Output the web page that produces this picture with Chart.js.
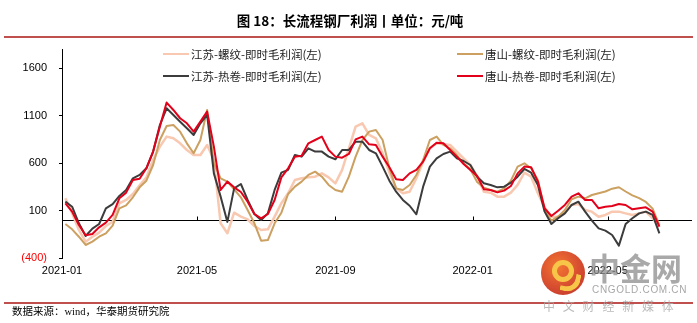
<!DOCTYPE html>
<html><head><meta charset="utf-8">
<script src="https://cdn.jsdelivr.net/npm/chart.js@4/dist/chart.umd.min.js"></script>
<style>
html,body{margin:0;padding:0;background:#fff;}
#wrap{position:relative;width:697px;height:323px;overflow:hidden;background:#fff;font-family:"Noto Sans CJK SC","Liberation Sans",sans-serif;}
#c{position:absolute;left:0;top:0;}
.abs{position:absolute;white-space:nowrap;}
.title{left:0;width:700px;text-align:center;top:10px;font-size:13.5px;font-weight:bold;color:#000;line-height:20px;}
.rule{left:4px;width:689px;height:2px;background:#C0504D;}
.lg{font-size:11.5px;color:#222;line-height:14px;}
.lgl{position:absolute;height:2px;width:26px;}
.src{left:12px;top:304px;font-size:10.5px;color:#000;line-height:16px;font-family:"Liberation Serif","Noto Sans CJK SC",serif;}
.wm1{left:589px;top:247px;font-size:31px;font-weight:bold;color:rgba(140,140,140,0.75);line-height:40px;}
.wm2{left:592px;top:283px;font-size:10px;letter-spacing:0.7px;color:rgba(150,150,150,0.85);font-family:"Liberation Sans",sans-serif;line-height:14px;}
.wm3{left:543px;top:298px;font-size:12px;letter-spacing:7.8px;color:rgba(170,170,170,0.8);line-height:16px;}
.logo{left:541px;top:251px;width:44px;height:44px;border-radius:50%;background:radial-gradient(circle at 40% 35%,#F36B21,#D03A1E 60%,#B8231C);opacity:0.92;}
.logo .in{position:absolute;left:11px;top:9px;width:12px;height:12px;border:5px solid #F7C23A;border-radius:50%;}
.logo .tail{position:absolute;left:20px;top:22px;width:14px;height:14px;border-right:5px solid #F7C23A;border-bottom:5px solid #F7C23A;border-radius:0 0 14px 0;transform:rotate(10deg);}
</style></head>
<body><div id="wrap">
<canvas id="c" width="697" height="323"></canvas>
<div class="abs title">图 18：长流程钢厂利润丨单位：元/吨</div>
<div class="abs rule" style="top:36px;"></div>
<div class="abs rule" style="top:302px;"></div>
<div id="legend"></div>
<div class="abs src">数据来源：wind，华泰期货研究院</div>
<div class="abs logo"><div class="in"></div><div class="tail"></div></div>
<div class="abs wm1">中金网</div>
<div class="abs wm2">CNGOLD.COM.CN</div>
<div class="abs wm3">中文财经新媒体</div>
</div>
<script>
// ---- data ----
const dates = ["2021-01-04","2021-01-10","2021-01-16","2021-01-22","2021-01-28","2021-02-03","2021-02-09","2021-02-15","2021-02-21","2021-02-27",
"2021-03-05","2021-03-11","2021-03-17","2021-03-23","2021-03-29","2021-04-04","2021-04-10","2021-04-16","2021-04-22","2021-04-28",
"2021-05-04","2021-05-10","2021-05-16","2021-05-22","2021-05-28","2021-06-03","2021-06-09","2021-06-15","2021-06-21","2021-06-27",
"2021-07-03","2021-07-09","2021-07-15","2021-07-21","2021-07-27","2021-08-02","2021-08-08","2021-08-14","2021-08-20","2021-08-26",
"2021-09-01","2021-09-07","2021-09-13","2021-09-19","2021-09-25","2021-10-01","2021-10-07","2021-10-13","2021-10-19","2021-10-25",
"2021-10-31","2021-11-06","2021-11-12","2021-11-18","2021-11-24","2021-11-30","2021-12-06","2021-12-12","2021-12-18","2021-12-24",
"2021-12-30","2022-01-05","2022-01-11","2022-01-17","2022-01-23","2022-01-29","2022-02-04","2022-02-10","2022-02-16","2022-02-22",
"2022-02-28","2022-03-06","2022-03-12","2022-03-18","2022-03-24","2022-03-30","2022-04-05","2022-04-11","2022-04-17","2022-04-23",
"2022-04-29","2022-05-05","2022-05-11","2022-05-17","2022-05-23","2022-05-29","2022-06-04","2022-06-10","2022-06-16"];

const jiangsuRebar = [228,70,-105,-228,-176,-133,-63,-18,176,211,
274,365,449,632,772,878,860,807,737,684,
684,790,632,-35,-140,77,35,7,-63,-105,
-98,35,176,281,421,439,449,456,491,449,
386,527,755,983,1018,895,860,702,498,333,
281,298,439,614,755,807,797,790,720,649,
579,463,298,288,246,246,288,369,498,456,
281,133,35,35,77,158,168,105,88,35,
53,88,88,70,53,70,88,18,-70];

const tangshanRebar = [-42,-98,-176,-263,-228,-176,-140,-60,123,154,
239,344,414,579,842,990,1000,930,807,702,
842,1158,597,439,404,323,239,105,-35,-218,
-211,-35,77,274,351,404,474,509,456,369,
316,298,456,667,842,930,948,842,544,333,
316,369,474,632,842,878,790,755,684,597,
534,400,340,316,298,333,414,562,597,544,
421,105,-7,35,105,218,246,228,263,281,
300,330,345,300,260,230,190,120,-53];

const jiangsuHRC = [193,140,-35,-168,-90,-42,123,168,253,316,
439,474,544,720,1000,1176,1106,1035,965,895,
1018,1106,491,246,-20,333,379,211,63,0,
70,316,498,527,684,667,755,720,720,667,
639,737,737,825,825,737,702,562,414,298,
211,150,60,351,562,649,695,720,649,621,
579,456,386,369,344,351,393,456,537,498,
369,88,-42,18,70,158,193,88,-7,-88,
-112,-158,-270,-42,18,70,88,53,-140];

const tangshanHRC = [175,88,-53,-161,-147,-77,-28,53,228,288,
421,435,544,720,983,1236,1158,1071,1018,930,
1035,1141,772,316,404,344,295,193,63,18,
63,211,449,544,667,677,807,842,878,737,
667,656,695,849,878,797,790,667,555,428,
421,491,527,614,755,814,807,737,667,590,
527,463,323,316,291,309,358,491,562,555,
404,123,42,98,158,246,281,211,211,123,
140,147,168,158,112,123,133,88,-70];

const seriesNames = ["江苏-螺纹-即时毛利润(左)","唐山-螺纹-即时毛利润(左)","江苏-热卷-即时毛利润(左)","唐山-热卷-即时毛利润(左)"];
const seriesColors = ["#F8C8B0","#CBA060","#3C3C3C","#E2001A"];
const xTickDates = ["2021-01-01","2021-05-01","2021-09-01","2022-01-01","2022-05-01"];
const xTickLabels = ["2021-01","2021-05","2021-09","2022-01","2022-05"];
const xEndDate = "2022-07-15";
const yTickValues = [-400,100,600,1100,1600];
const yMin = -400, yMax = 1800;

// ---- build ----
const DAY0 = Date.UTC(2021,0,1);
function dayOf(s){const p=s.split('-').map(Number);return (Date.UTC(p[0],p[1]-1,p[2])-DAY0)/86400000;}
const xs = dates.map(dayOf);
const xTickDays = xTickDates.map(dayOf);
const pts = vals => vals.map((v,i)=>({x:xs[i],y:v}));
const allSeries = [jiangsuRebar,tangshanRebar,jiangsuHRC,tangshanHRC];
const widths = [2.5,2,2,2];
const orders = [4,3,2,1];

// legend (HTML)
const lgPos = [[163,54],[457,54],[163,75.5],[457,75.5]];
const lg = document.getElementById('legend');
seriesNames.forEach((n,i)=>{
  const [lx,ly]=lgPos[i];
  const line=document.createElement('div');
  line.className='lgl'; line.style.left=lx+'px'; line.style.top=(ly-1)+'px'; line.style.background=seriesColors[i];
  lg.appendChild(line);
  const t=document.createElement('div');
  t.className='abs lg'; t.style.left=(lx+28)+'px'; t.style.top=(ly-7)+'px'; t.textContent=n;
  lg.appendChild(t);
});

const zeroLine = {id:'zeroLine', beforeDatasetsDraw(chart){
  const {ctx, chartArea:a, scales:{x,y}} = chart;
  const py = Math.round(y.getPixelForValue(0))+0.5;
  ctx.save(); ctx.strokeStyle='#000'; ctx.lineWidth=1; ctx.beginPath();
  ctx.moveTo(a.left,py); ctx.lineTo(a.right,py);
  xTickDays.slice(1).forEach(d=>{const px=Math.round(x.getPixelForValue(d))+0.5; ctx.moveTo(px,py); ctx.lineTo(px,py-4);});
  ctx.stroke(); ctx.restore();
}};

new Chart(document.getElementById('c'), {
  type:'line',
  data:{datasets: allSeries.map((s,i)=>({label:seriesNames[i], data:pts(s), borderColor:seriesColors[i], backgroundColor:seriesColors[i], borderWidth:widths[i], order:orders[i], fill:false}))},
  options:{
    responsive:false, maintainAspectRatio:false, animation:false,
    layout:{padding:{left:0,right:5,top:49,bottom:45}},
    plugins:{legend:{display:false}, tooltip:{enabled:false}},
    elements:{point:{radius:0}, line:{tension:0, borderJoinStyle:'round'}},
    scales:{
      x:{type:'linear', min:0, max:dayOf(xEndDate),
        afterBuildTicks:s=>{s.ticks=xTickDays.map(v=>({value:v}));},
        afterFit:s=>{s.height=20;},
        ticks:{callback:v=>xTickLabels[xTickDays.indexOf(v)], color:'#000', font:{size:11,family:'Liberation Sans'}, padding:6, maxRotation:0, autoSkip:false},
        grid:{display:false, drawTicks:false}, border:{display:false}},
      y:{type:'linear', min:yMin, max:yMax,
        afterBuildTicks:s=>{s.ticks=yTickValues.map(v=>({value:v}));},
        afterFit:s=>{s.width=62;},
        ticks:{callback:v=> v<0 ? '('+(-v)+')' : String(v), color:c=>(c.tick && c.tick.value<0)?'#FF0000':'#000', font:{size:11,family:'Liberation Sans'}, padding:12},
        grid:{drawOnChartArea:false, drawTicks:true, tickLength:3, color:'#000'},
        border:{display:true, color:'#000', width:1}}
    }
  },
  plugins:[zeroLine]
});
</script>
</body></html>
